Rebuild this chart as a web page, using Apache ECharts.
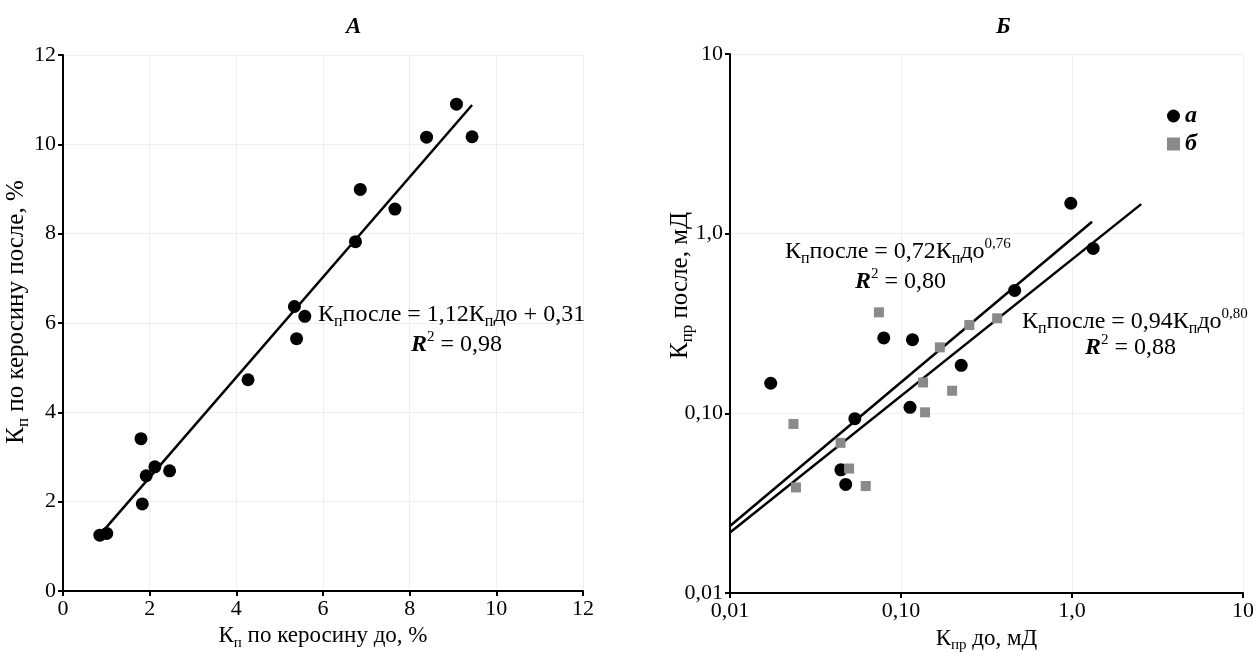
<!DOCTYPE html>
<html>
<head>
<meta charset="utf-8">
<script src="https://cdn.jsdelivr.net/npm/echarts@6/dist/echarts.min.js"></script>
<style>
html,body{margin:0;padding:0;background:#fff;}
#c{width:1257px;height:652px;}
</style>
</head>
<body>
<div id="c"></div>
<script>
// ---- Chart A data (linear) ----
var xA = [0.85, 1.01, 1.80, 1.83, 1.92, 2.12, 2.46, 4.27, 5.34, 5.39, 5.58, 6.75, 6.86, 7.66, 8.39, 9.08, 9.44];
var yA = [1.25, 1.29, 3.41, 1.95, 2.58, 2.78, 2.69, 4.73, 6.37, 5.65, 6.15, 7.82, 8.99, 8.55, 10.16, 10.90, 10.17];
var fitAx = [0.95, 9.44];
var fitAy = [1.37, 10.88];

// ---- Chart B data (log-log) ----
var xBa = [0.0173, 0.0445, 0.0475, 0.0537, 0.0793, 0.1129, 0.1167, 0.225, 0.462, 0.984, 1.33];
var yBa = [0.147, 0.0485, 0.0402, 0.0934, 0.263, 0.108, 0.257, 0.185, 0.483, 1.477, 0.828];
var xBb = [0.0235, 0.0243, 0.0443, 0.0497, 0.0622, 0.0743, 0.1346, 0.1383, 0.1687, 0.199, 0.251, 0.365];
var yBb = [0.0873, 0.0387, 0.0685, 0.0493, 0.0394, 0.365, 0.1485, 0.1013, 0.233, 0.1336, 0.310, 0.338];
var fit1x = [0.01, 1.31];   // 0,94·x^0,80
var fit1y = [0.0236, 1.166];
var fit2x = [0.01, 2.54];   // 0,72·x^0,76
var fit2y = [0.0217, 1.46];
var logTickLabels = {0.01: '0,01', 0.1: '0,10', 1: '1,0', 10: '10'};

function pairs(xs, ys) { return xs.map(function (v, i) { return [v, ys[i]]; }); }

var FONT = 'Liberation Serif';
function richSet(size) {
  return {
    a: {fontFamily: FONT, fontSize: size, color: '#000', lineHeight: size + 6, verticalAlign: 'middle'},
    s: {fontFamily: FONT, fontSize: Math.round(size * 0.66), color: '#000', lineHeight: 10, verticalAlign: 'bottom'},
    p: {fontFamily: FONT, fontSize: Math.round(size * 0.62), color: '#000', lineHeight: 14, verticalAlign: 'top'},
    i: {fontFamily: FONT, fontSize: size, color: '#000', lineHeight: size + 6, fontStyle: 'italic', fontWeight: 'bold', verticalAlign: 'middle'}
  };
}
var richAnn = richSet(24);
var richNameX = richSet(23);
var richNameY = richSet(25);

var labelStyle = {color: '#000', fontFamily: FONT, fontSize: 22, margin: 7};
function logFmt(v) { var k = +(+v).toPrecision(3); return logTickLabels[k] || ''; }

var axisCommon = {
  axisLine: {show: true, onZero: false, lineStyle: {color: '#000', width: 2}},
  axisTick: {show: true, inside: false, length: 5, lineStyle: {color: '#000', width: 2}},
  splitLine: {show: true, lineStyle: {color: '#efefef', width: 1}},
  nameLocation: 'middle'
};
function merge(a, b) { var o = {}; for (var k in a) o[k] = a[k]; for (var k2 in b) o[k2] = b[k2]; return o; }

var chart = echarts.init(document.getElementById('c'));
chart.setOption({
  backgroundColor: '#fff',
  animation: false,
  title: [
    {text: 'А', left: 341, top: 11, textStyle: {fontFamily: FONT, fontSize: 23, fontStyle: 'italic', fontWeight: 'bold', color: '#000'}},
    {text: 'Б', left: 991, top: 11, textStyle: {fontFamily: FONT, fontSize: 23, fontStyle: 'italic', fontWeight: 'bold', color: '#000'}}
  ],
  legend: {
    data: [{name: 'а', icon: 'circle'}, {name: 'б', icon: 'rect'}],
    orient: 'vertical',
    left: 1162, top: 99,
    itemGap: 4,
    itemWidth: 13, itemHeight: 13,
    textStyle: {fontFamily: FONT, fontSize: 24, fontStyle: 'italic', fontWeight: 'bold', color: '#000'}
  },
  grid: [
    {left: 63, right: 674, top: 55, bottom: 61, outerBoundsMode: 'none', containLabel: false},
    {left: 730, right: 14, top: 54, bottom: 59, outerBoundsMode: 'none', containLabel: false}
  ],
  xAxis: [
    merge(axisCommon, {type: 'value', gridIndex: 0, min: 0, max: 12, interval: 2, axisLabel: labelStyle,
      name: '{a|К}{s|п}{a| по керосину до, %}', nameGap: 28, nameTextStyle: {rich: richNameX}}),
    merge(axisCommon, {type: 'log', gridIndex: 1, logBase: 10, min: 0.01, max: 10,
      axisLabel: merge(labelStyle, {formatter: logFmt}),
      name: '{a|К}{s|пр}{a| до, мД}', nameGap: 31, nameTextStyle: {rich: richNameX}})
  ],
  yAxis: [
    merge(axisCommon, {type: 'value', gridIndex: 0, min: 0, max: 12, interval: 2, axisLabel: labelStyle,
      name: '{a|К}{s|п}{a| по керосину после, %}', nameGap: 31, nameMoveOverlap: false,
      nameTextStyle: {rich: richNameY, padding: [0, 0, 0, 22]}}),
    merge(axisCommon, {type: 'log', gridIndex: 1, logBase: 10, min: 0.01, max: 10,
      axisLabel: merge(labelStyle, {formatter: logFmt}),
      name: '{a|К}{s|пр}{a| после, мД}', nameGap: 34, nameMoveOverlap: false,
      nameTextStyle: {rich: richNameY, padding: [0, 0, 0, 76]}})
  ],
  series: [
    {type: 'scatter', xAxisIndex: 0, yAxisIndex: 0, data: pairs(xA, yA), symbol: 'circle', symbolSize: 13,
      itemStyle: {color: '#000', opacity: 1}, z: 3},
    {type: 'line', xAxisIndex: 0, yAxisIndex: 0, data: pairs(fitAx, fitAy), showSymbol: false, symbol: 'none',
      lineStyle: {color: '#000', width: 2.5}, z: 2},
    {name: 'а', type: 'scatter', xAxisIndex: 1, yAxisIndex: 1, data: pairs(xBa, yBa), symbol: 'circle', symbolSize: 13,
      itemStyle: {color: '#000', opacity: 1}, z: 3},
    {name: 'б', type: 'scatter', xAxisIndex: 1, yAxisIndex: 1, data: pairs(xBb, yBb), symbol: 'rect', symbolSize: 10,
      itemStyle: {color: '#8a8a8a', opacity: 1}, z: 3},
    {type: 'line', xAxisIndex: 1, yAxisIndex: 1, data: pairs(fit1x, fit1y), showSymbol: false, symbol: 'none',
      lineStyle: {color: '#000', width: 2.5}, z: 2},
    {type: 'line', xAxisIndex: 1, yAxisIndex: 1, data: pairs(fit2x, fit2y), showSymbol: false, symbol: 'none',
      lineStyle: {color: '#000', width: 2.5}, z: 2}
  ],
  graphic: [
    {type: 'text', left: 318, top: 303, z: 10, style: {text: '{a|К}{s|п}{a|после = 1,12К}{s|п}{a|до + 0,31}', rich: richAnn}},
    {type: 'text', left: 411, top: 330, z: 10, style: {text: '{i|R}{p|2}{a| = 0,98}', rich: richAnn}},
    {type: 'text', left: 785, top: 237, z: 10, style: {text: '{a|К}{s|п}{a|после = 0,72К}{s|п}{a|до}{p|0,76}', rich: richAnn}},
    {type: 'text', left: 855, top: 267, z: 10, style: {text: '{i|R}{p|2}{a| = 0,80}', rich: richAnn}},
    {type: 'text', left: 1022, top: 307, z: 10, style: {text: '{a|К}{s|п}{a|после = 0,94К}{s|п}{a|до}{p|0,80}', rich: richAnn}},
    {type: 'text', left: 1085, top: 333, z: 10, style: {text: '{i|R}{p|2}{a| = 0,88}', rich: richAnn}}
  ]
});
</script>
</body>
</html>
